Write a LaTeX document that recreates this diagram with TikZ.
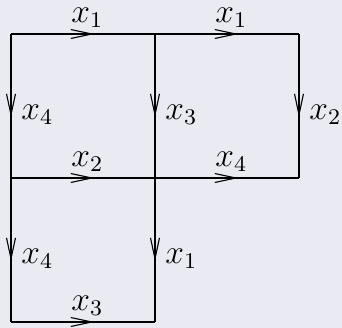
\documentclass[tikz,border=0pt]{standalone}
\usetikzlibrary{arrows.meta,decorations.markings}
\definecolor{bgc}{HTML}{EAEAF2}
\begin{document}
\begin{tikzpicture}[x=0.357pt,y=-0.357pt,
  midarrow/.style={postaction={decorate},decoration={markings,
    mark=at position 0.58 with {\arrow{Straight Barb[length=7.5pt,width=3.2pt]}}}},
  labh/.style={inner sep=2pt,font=\large,above,pos=0.53},
  labv/.style={inner sep=3.5pt,font=\large,right,pos=0.56}]
\fill[bgc] (0,0) rectangle (342,328);
\useasboundingbox (0,0) rectangle (342,328);
\coordinate (a1) at (11,34);
\coordinate (a2) at (155,34);
\coordinate (a3) at (299,34);
\coordinate (b1) at (11,178);
\coordinate (b2) at (155,178);
\coordinate (b3) at (299,178);
\coordinate (c1) at (11,322);
\coordinate (c2) at (155,322);
\draw[midarrow] (a1) -- node[labh] (l1) {$x_1$} (a2);
\draw[midarrow] (a2) -- node[labh] (l2) {$x_1$} (a3);
\draw[midarrow] (a1) -- node[labv] (l3) {$x_4$} (b1);
\draw[midarrow] (a2) -- node[labv] (l4) {$x_3$} (b2);
\draw[midarrow] (a3) -- node[labv] (l5) {$x_2$} (b3);
\draw[midarrow] (b1) -- node[labh] (l6) {$x_2$} (b2);
\draw[midarrow] (b2) -- node[labh] (l7) {$x_4$} (b3);
\draw[midarrow] (b1) -- node[labv] (l8) {$x_4$} (c1);
\draw[midarrow] (b2) -- node[labv] (l9) {$x_1$} (c2);
\draw[midarrow] (c1) -- node[labh] (l10) {$x_3$} (c2);
\end{tikzpicture}
\end{document}
